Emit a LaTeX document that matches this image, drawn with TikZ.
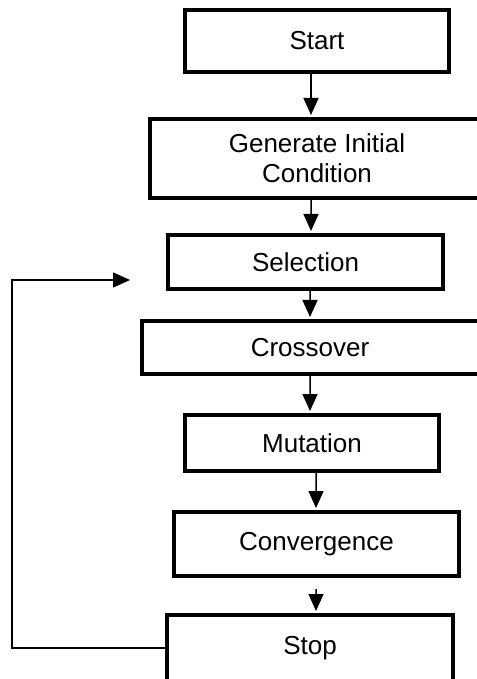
\documentclass[tikz,border=0pt]{standalone}
\usepackage{fontspec}
\setmainfont{Liberation Sans}
\usepackage{tikz}
\usetikzlibrary{calc,arrows.meta}

\begin{document}
\begin{tikzpicture}
            \tikzstyle{box}=[rectangle,draw=black,line width=0.08cm,inner sep=0pt,align=center,font=\fontsize{14.8}{17}\selectfont]
            \tikzstyle{arr}=[line width=0.03cm,-{Triangle[length=0.34cm,width=0.3cm]}]
            \clip (0,0) rectangle (9.54,-13.58);
            \node (a) at (6.34,-0.82) [box,minimum width=5.28cm,minimum height=1.24cm] {Start};
            \node (b) at (6.34,-3.17) [box,minimum width=6.68cm,minimum height=1.58cm] {Generate Initial\\Condition};
            \node (c) at (6.11,-5.24) [box,minimum width=5.50cm,minimum height=1.08cm] {Selection};
            \node (d) at (6.20,-6.95) [box,minimum width=6.74cm,minimum height=1.06cm] {Crossover};
            \node (e) at (6.24,-8.86) [box,minimum width=5.08cm,minimum height=1.12cm] {Mutation};
            \node (f) at (6.33,-10.88) [box,minimum width=5.70cm,minimum height=1.28cm] {Convergence};
            \node (g) at (6.20,-12.96) [box,minimum width=5.72cm,minimum height=1.32cm] {Stop};
            \coordinate (h) at (2.60,-5.60);
            \draw[arr] ([xshift=-0.12cm]a.south) -- ([xshift=-0.12cm,yshift=0.04cm]b.north);
            \draw[arr] ([xshift=-0.12cm]b.south) -- ([xshift=0.11cm,yshift=0.04cm]c.north);
            \draw[arr] ([xshift=0.09cm]c.south) -- ([yshift=0.04cm]d.north);
            \draw[arr] (d.south) -- ([xshift=-0.04cm,yshift=0.04cm]e.north);
            \draw[arr] ([xshift=0.08cm]e.south) -- ([xshift=-0.01cm,yshift=0.04cm]f.north);
            \draw[arr] ([xshift=-0.01cm,yshift=-0.22cm]f.south) -- ([xshift=0.12cm,yshift=0.04cm]g.north);
            \draw[arr] (g.west) -| ([xshift=-2.36cm]h) -- (h);
        \end{tikzpicture}
\end{document}
